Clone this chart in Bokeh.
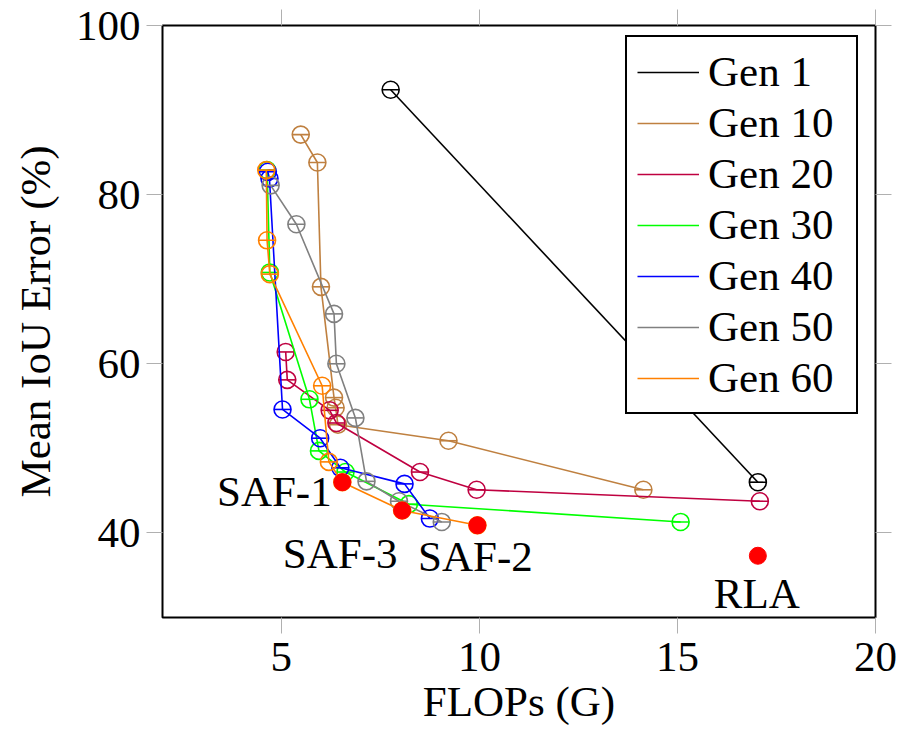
from bokeh.plotting import figure
from bokeh.models import (Range1d, FixedTicker, LinearAxis, Legend, LegendItem,
                          ColumnDataSource)
from bokeh.core.properties import value
from bokeh.embed import file_html
from bokeh.resources import INLINE

# ---------------- data ----------------
gen_names = ["Gen 1", "Gen 10", "Gen 20", "Gen 30", "Gen 40", "Gen 50", "Gen 60"]
gen_colors = ["#000000", "#BF8040", "#BF0040", "#00FF00", "#0000FF", "#808080", "#FF8000"]

gen1_x = [7.76, 17.03]
gen1_y = [92.4, 46.0]
gen10_x = [5.49, 5.91, 6.00, 6.33, 6.37, 6.43, 9.22, 14.14]
gen10_y = [87.1, 83.8, 69.1, 56.0, 54.8, 52.8, 50.9, 45.1]
gen20_x = [5.11, 5.15, 6.22, 6.39, 8.50, 9.93, 17.08]
gen20_y = [61.4, 58.1, 54.5, 53.0, 47.2, 45.1, 43.75]
gen30_x = [4.64, 4.71, 5.71, 5.95, 6.62, 8.22, 15.08]
gen30_y = [82.9, 70.8, 55.8, 49.7, 47.2, 43.4, 41.3]
gen40_x = [4.66, 4.70, 5.03, 5.98, 6.49, 8.11, 8.75]
gen40_y = [82.7, 81.9, 54.6, 51.2, 47.7, 45.8, 41.7]
gen50_x = [4.73, 5.38, 6.33, 6.39, 6.87, 7.15, 7.97, 9.05]
gen50_y = [81.1, 76.5, 65.9, 60.0, 53.6, 46.1, 43.75, 41.3]
gen60_x = [4.62, 4.64, 4.71, 6.03, 6.20, 6.54, 8.05, 9.95]
gen60_y = [82.9, 74.6, 70.6, 57.4, 48.4, 46.0, 42.65, 40.9]

sel_names = ["SAF-1", "SAF-3", "SAF-2", "RLA"]
sel_x = [6.54, 8.05, 9.95, 17.03]
sel_y = [46.0, 42.65, 40.9, 37.3]

x_ticks = [5, 10, 15, 20]
y_ticks = [40, 60, 80, 100]

# ---------------- figure ----------------
FONT = "Liberation Serif"
FS = "43px"

p = figure(frame_width=713, frame_height=592,
           min_border_left=162, min_border_right=24, min_border_top=25, min_border_bottom=113,
           x_range=Range1d(2, 20), y_range=Range1d(30, 100),
           output_backend="svg", toolbar_location=None, x_axis_location=None,
           y_axis_location=None)
p.grid.visible = False
p.outline_line_color = "black"
p.outline_line_width = 2
p.background_fill_color = "white"
p.border_fill_color = "white"

def style_axis(ax, ticks, labels=True):
    ax.ticker = FixedTicker(ticks=ticks)
    ax.axis_line_color = None
    ax.major_tick_line_color = "#b0b0b0"
    ax.major_tick_line_width = 1
    ax.major_tick_out = 16
    ax.major_tick_in = 0
    ax.minor_tick_line_color = None
    ax.major_label_text_font = FONT
    if labels:
        ax.major_label_text_font_size = FS
        ax.major_label_text_color = "black"
        ax.major_label_standoff = 6
    else:
        ax.major_label_text_font_size = "1px"
        ax.major_label_text_color = None
        ax.major_label_standoff = 0
    ax.axis_label_text_font = FONT
    ax.axis_label_text_font_size = FS
    ax.axis_label_text_font_style = "normal"
    ax.axis_label_text_color = "black"

xb = LinearAxis(axis_label="FLOPs (G)")
style_axis(xb, x_ticks)
xb.major_label_standoff = 9
xb.axis_label_standoff = 4
p.add_layout(xb, "below")
yl = LinearAxis(axis_label="Mean IoU Error (%)")
style_axis(yl, y_ticks)
yl.axis_label_standoff = 14
p.add_layout(yl, "left")
xt = LinearAxis()
style_axis(xt, x_ticks, labels=False)
p.add_layout(xt, "above")
yr = LinearAxis()
style_axis(yr, y_ticks, labels=False)
p.add_layout(yr, "right")

series = [(gen1_x, gen1_y), (gen10_x, gen10_y), (gen20_x, gen20_y), (gen30_x, gen30_y),
          (gen40_x, gen40_y), (gen50_x, gen50_y), (gen60_x, gen60_y)]

items = []
for name, col, (xs, ys) in zip(gen_names, gen_colors, series):
    src = ColumnDataSource(dict(x=xs, y=ys))
    ln = p.line("x", "y", source=src, line_color=col, line_width=1.6)
    p.scatter("x", "y", source=src, marker="circle", size=17, fill_color=None,
              line_color=col, line_width=1.6)
    p.scatter("x", "y", source=src, marker="dash", size=17,
              line_color=col, line_width=1.6)
    items.append(LegendItem(label=name, renderers=[ln]))

sel_src = ColumnDataSource(dict(x=sel_x, y=sel_y, name=sel_names,
                                dx=[-68, -62, -2, -1], dy=[9, 43, 31, 38]))
p.scatter("x", "y", source=sel_src, marker="circle", size=17, fill_color="#FF0000",
          line_color="#FF0000")
p.text("x", "y", text="name", source=sel_src, x_offset="dx", y_offset="dy",
       text_align="center", text_baseline="middle", text_font=value(FONT),
       text_font_size=FS, text_color="black")

legend = Legend(items=items, location=(463, 203))
legend.border_line_color = "black"
legend.border_line_alpha = 1
legend.border_line_width = 2
legend.background_fill_alpha = 1
legend.label_text_font = FONT
legend.label_text_font_size = FS
legend.label_text_color = "black"
legend.glyph_width = 62
legend.glyph_height = 40
legend.label_standoff = 9
legend.label_width = 138
legend.padding = 10
legend.spacing = 2
legend.margin = 0
p.add_layout(legend, "center")

open("out.html", "w").write(file_html(p, INLINE))
